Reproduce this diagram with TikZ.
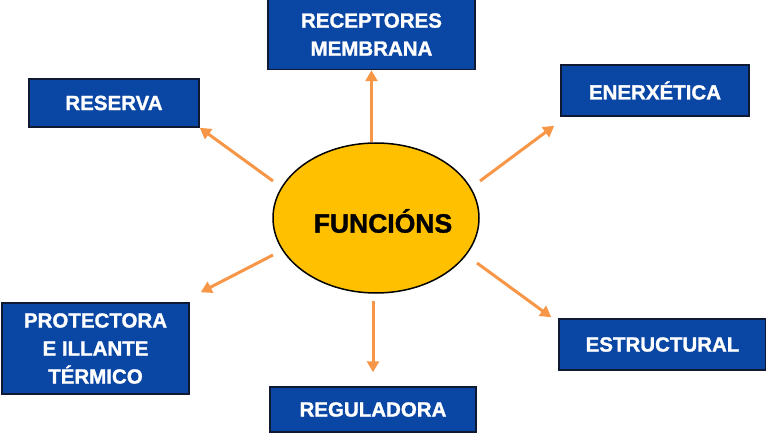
\documentclass[tikz,border=0pt]{standalone}
\usepackage{fontspec}
\setmainfont{Liberation Sans}[BoldFeatures={FakeBold=1.3}]
\usetikzlibrary{arrows.meta,shapes.geometric,calc}
\definecolor{boxblue}{RGB}{10,70,163}
\definecolor{boxline}{RGB}{15,25,50}
\definecolor{arrorange}{RGB}{247,150,70}
\definecolor{gold}{RGB}{255,192,0}
\begin{document}
\begin{tikzpicture}[x=1pt,y=-1pt,
  box/.style={draw=boxline, line width=1.5pt, fill=boxblue, text=white,
    font=\bfseries\fontsize{20.5}{28}\selectfont, align=center, inner sep=0pt},
  arr/.style={draw=arrorange, line width=3pt, -{Triangle[length=11pt,width=12pt]}},
  hub/.style={ellipse, draw=black, line width=1.5pt, fill=gold, inner sep=0pt},
  hubtext/.style={font=\bfseries\fontsize{26.5}{30}\selectfont, text=black, inner sep=0pt}]
\useasboundingbox (0,0) rectangle (766,433);
\fill[white] (0,0) rectangle (766,433);

\node[box, minimum width=207pt, minimum height=70pt] (rec) at (371.5,34.5) {RECEPTORES\\MEMBRANA};
\node[box, minimum width=170pt, minimum height=48pt] (res) at (114,103) {RESERVA};
\node[box, minimum width=188pt, minimum height=51pt] (ene) at (655,90.5) {ENERXÉTICA};
\node[box, minimum width=187pt, minimum height=91pt] (pro) at (95.5,348.5) {PROTECTORA\\E ILLANTE\\TÉRMICO};
\node[box, minimum width=206pt, minimum height=45pt] (reg) at (373,409.5) {REGULADORA};
\node[box, minimum width=207pt, minimum height=51pt] (est) at (662.5,344.5) {ESTRUCTURAL};

\node[hub, minimum width=206pt, minimum height=150pt] (f) at (376,218) {};
\node[hubtext] (ft) at (383,221) {FUNCIÓNS};

\coordinate (sres) at (273,181);
\coordinate (sene) at (480,181);
\coordinate (spro) at (273,255);
\coordinate (sest) at (477,263);

\draw[arr] (f.north -| rec.south) -- (rec.south);
\draw[arr] ($(f.south -| reg.north)+(0,7)$) -- ($(reg.north)+(0,-14)$);
\draw[arr] (sres) -- (res.south east);
\draw[arr] (sene) -- ($(ene.south west)+(-6,9)$);
\draw[arr] (spro) -- ($(pro.north east)+(11,-10)$);
\draw[arr] (sest) -- ($(est.north west)+(-7,-1)$);
\end{tikzpicture}
\end{document}
